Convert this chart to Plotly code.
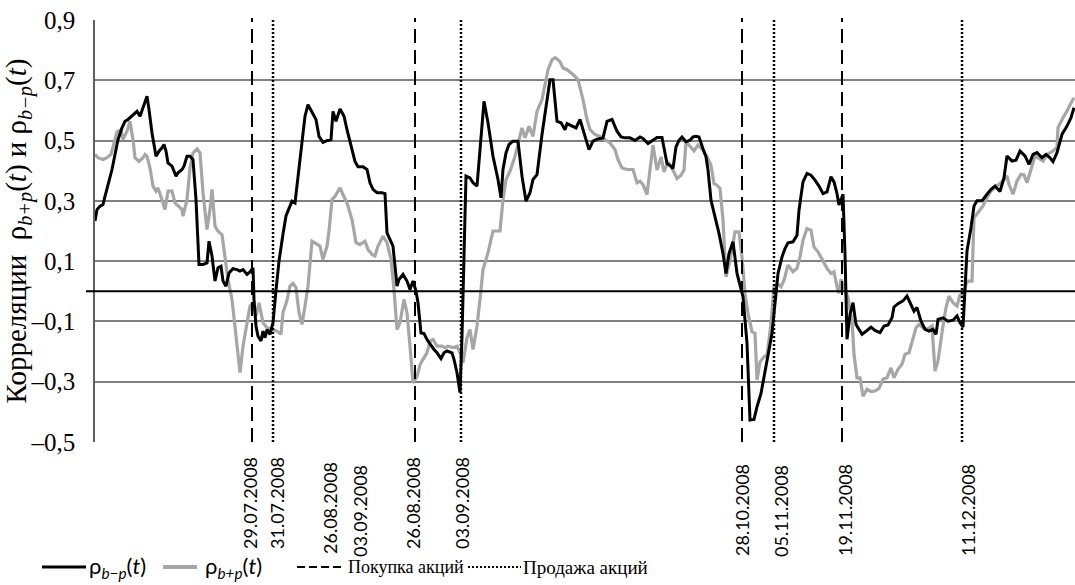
import plotly.graph_objects as go

# Observation index (trading-session steps along the horizontal axis)
x_bm = [0, 2, 5, 8, 10, 13, 17, 20, 23, 27,
        30, 33, 37, 40, 42, 45, 48, 52, 54, 57,
        61, 64, 67, 69, 71, 73, 77, 79, 81, 83,
        87, 89, 92, 95, 98, 101, 104, 108, 112, 114,
        117, 120, 123, 126, 128, 131, 134, 138, 142, 145,
        148, 152, 155, 158, 159, 161, 163, 166, 168, 170,
        172, 175, 178, 181, 184, 188, 191, 194, 197, 200,
        203, 207, 210, 213, 217, 221, 224, 228, 232, 236,
        238, 241, 245, 249, 252, 256, 260, 263, 268, 272,
        275, 278, 282, 287, 290, 292, 295, 298, 302, 304,
        308, 312, 315, 318, 321, 323, 326, 329, 332, 335,
        339, 342, 346, 349, 352, 357, 359, 362, 365, 367,
        371, 375, 378, 382, 385, 389, 393, 398, 403, 406,
        408, 411, 414, 418, 423, 427, 431, 435, 438, 442,
        447, 452, 455, 458, 462, 466, 470, 472, 477, 481,
        485, 489, 494, 498, 502, 508, 512, 517, 522, 526,
        530, 535, 540, 545, 548, 553, 558, 562, 567, 569,
        572, 576, 578, 581, 584, 587, 591, 595, 598, 601,
        604, 608, 611, 613, 616, 620, 624, 628, 631, 634,
        638, 642, 645, 648, 652, 655, 659, 662, 666, 669,
        672, 677, 680, 683, 687, 690, 693, 698, 702, 704,
        708, 712, 716, 720, 724, 728, 732, 736, 739, 742,
        744, 747, 748, 750, 752, 755, 758, 761, 767, 772,
        776, 780, 785, 789, 793, 797, 799, 803, 808, 812,
        815, 819, 822, 826, 830, 834, 838, 841, 843, 848,
        853, 858, 862, 865, 868, 870, 872, 876, 879, 882,
        887, 892, 896, 900, 905, 909, 912, 917, 921, 925,
        930, 934, 938, 942, 947, 951, 955, 958, 962, 967,
        972, 976, 979]
rho_bm = [0.233, 0.271, 0.282, 0.288, 0.315, 0.354, 0.404, 0.454, 0.503, 0.542,
          0.564, 0.570, 0.581, 0.592, 0.597, 0.581, 0.608, 0.647, 0.603, 0.525,
          0.448, 0.465, 0.476, 0.487, 0.465, 0.426, 0.415, 0.398, 0.382, 0.393,
          0.404, 0.415, 0.448, 0.448, 0.437, 0.304, 0.089, 0.089, 0.094, 0.166,
          0.117, 0.034, 0.078, 0.083, 0.034, 0.017, 0.061, 0.075, 0.072, 0.067,
          0.072, 0.056, 0.064, 0.078, -0.027, -0.115, -0.149, -0.165, -0.132, -0.154,
          -0.127, -0.143, -0.104, 0.003, 0.100, 0.190, 0.250, 0.275, 0.299, 0.293,
          0.382, 0.492, 0.581, 0.619, 0.592, 0.570, 0.514, 0.494, 0.500, 0.503,
          0.597, 0.564, 0.605, 0.581, 0.536, 0.481, 0.431, 0.413, 0.413, 0.404,
          0.360, 0.338, 0.327, 0.327, 0.324, 0.194, 0.172, 0.150, 0.017, 0.039,
          0.056, 0.034, 0.006, 0.034, 0.001, -0.038, -0.138, -0.140, -0.160, -0.176,
          -0.193, -0.204, -0.223, -0.204, -0.198, -0.204, -0.226, -0.270, -0.336, -0.150,
          0.382, 0.376, 0.360, 0.349, 0.459, 0.630, 0.559, 0.448, 0.371, 0.310,
          0.404, 0.459, 0.487, 0.498, 0.498, 0.382, 0.299, 0.327, 0.371, 0.387,
          0.520, 0.625, 0.702, 0.702, 0.564, 0.559, 0.536, 0.556, 0.547, 0.542,
          0.570, 0.525, 0.470, 0.498, 0.505, 0.509, 0.564, 0.570, 0.531, 0.512,
          0.509, 0.509, 0.500, 0.512, 0.507, 0.490, 0.501, 0.510, 0.510, 0.473,
          0.424, 0.415, 0.407, 0.479, 0.501, 0.512, 0.496, 0.501, 0.512, 0.514,
          0.512, 0.473, 0.446, 0.402, 0.302, 0.247, 0.192, 0.125, 0.059, 0.125,
          0.164, 0.059, 0.015, -0.018, -0.173, -0.427, -0.425, -0.383, -0.339, -0.283,
          -0.228, -0.140, -0.040, 0.059, 0.114, 0.142, 0.161, 0.164, 0.186, 0.269,
          0.363, 0.391, 0.385, 0.369, 0.349, 0.324, 0.330, 0.380, 0.363, 0.324,
          0.286, 0.311, 0.322, 0.123, -0.159, -0.077, -0.038, -0.110, -0.143, -0.130,
          -0.119, -0.130, -0.137, -0.115, -0.112, -0.088, -0.052, -0.041, -0.032, -0.016,
          -0.038, -0.066, -0.054, -0.099, -0.126, -0.132, -0.126, -0.143, -0.093, -0.088,
          -0.099, -0.096, -0.082, -0.104, -0.119, 0.012, 0.134, 0.211, 0.283, 0.300,
          0.300, 0.322, 0.338, 0.349, 0.331, 0.377, 0.449, 0.432, 0.435, 0.465,
          0.449, 0.421, 0.454, 0.460, 0.443, 0.454, 0.443, 0.430, 0.460, 0.521,
          0.548, 0.576, 0.609]

x_bp = [0, 3, 8, 12, 16, 19, 22, 26, 28, 32,
        35, 38, 40, 44, 48, 50, 52, 55, 58, 61,
        63, 67, 70, 73, 77, 80, 83, 87, 88, 92,
        95, 98, 102, 105, 108, 112, 115, 117, 120, 123,
        127, 130, 133, 137, 140, 143, 145, 148, 152, 155,
        158, 161, 164, 168, 172, 177, 182, 186, 188, 192,
        195, 198, 201, 204, 207, 210, 213, 217, 220, 225,
        228, 232, 234, 237, 240, 245, 248, 252, 257, 261,
        265, 270, 273, 277, 280, 283, 288, 292, 296, 299,
        302, 305, 309, 312, 315, 318, 322, 325, 328, 332,
        335, 338, 342, 347, 350, 353, 358, 362, 365, 368,
        372, 375, 378, 382, 385, 388, 393, 398, 405, 408,
        411, 415, 420, 423, 427, 430, 434, 438, 442, 447,
        450, 453, 457, 460, 463, 465, 468, 472, 478, 483,
        488, 492, 495, 500, 505, 510, 515, 520, 523, 527,
        532, 538, 542, 545, 548, 552, 555, 558, 562, 566,
        569, 573, 578, 582, 586, 589, 591, 595, 599, 603,
        608, 612, 616, 619, 622, 625, 628, 631, 635, 640,
        644, 647, 650, 653, 657, 660, 662, 665, 669, 672,
        676, 679, 682, 686, 689, 693, 698, 702, 705, 708,
        712, 716, 719, 723, 728, 732, 736, 739, 742, 744,
        746, 749, 753, 757, 759, 762, 765, 768, 772, 776,
        780, 784, 788, 792, 796, 799, 803, 807, 810, 814,
        818, 821, 824, 828, 832, 837, 840, 843, 847, 851,
        854, 858, 862, 865, 868, 871, 873, 877, 879, 883,
        888, 892, 896, 900, 904, 908, 912, 914, 918, 922,
        926, 929, 932, 937, 940, 943, 948, 952, 957, 962,
        963, 968, 972, 977, 979]
rho_bp = [0.454, 0.443, 0.437, 0.443, 0.454, 0.492, 0.528, 0.536, 0.503, 0.531,
          0.564, 0.503, 0.443, 0.431, 0.443, 0.454, 0.448, 0.409, 0.349, 0.332,
          0.343, 0.304, 0.271, 0.332, 0.332, 0.293, 0.282, 0.271, 0.249, 0.304,
          0.409, 0.459, 0.472, 0.459, 0.327, 0.205, 0.271, 0.338, 0.216, 0.199,
          0.188, 0.117, 0.039, -0.027, -0.115, -0.226, -0.270, -0.182, -0.104, -0.049,
          -0.038, -0.082, -0.038, -0.104, -0.121, -0.127, -0.132, -0.143, -0.071, -0.030,
          0.017, 0.026, 0.012, -0.071, -0.110, -0.049, 0.017, 0.166, 0.161, 0.150,
          0.106, 0.150, 0.199, 0.304, 0.315, 0.343, 0.321, 0.293, 0.238, 0.161,
          0.155, 0.166, 0.139, 0.122, 0.117, 0.150, 0.183, 0.161, 0.106, 0.006,
          -0.127, -0.104, -0.027, -0.071, -0.182, -0.304, -0.282, -0.243, -0.226, -0.204,
          -0.165, -0.160, -0.182, -0.182, -0.187, -0.182, -0.187, -0.182, -0.204, -0.237,
          -0.154, -0.127, -0.193, -0.115, -0.027, 0.072, 0.128, 0.200, 0.200, 0.304,
          0.371, 0.398, 0.448, 0.492, 0.542, 0.509, 0.547, 0.514, 0.597, 0.636,
          0.686, 0.735, 0.768, 0.775, 0.768, 0.762, 0.741, 0.735, 0.719, 0.702,
          0.636, 0.570, 0.536, 0.520, 0.514, 0.503, 0.492, 0.470, 0.437, 0.409,
          0.404, 0.404, 0.360, 0.365, 0.354, 0.321, 0.402, 0.485, 0.402, 0.446,
          0.396, 0.429, 0.402, 0.374, 0.385, 0.402, 0.496, 0.481, 0.466, 0.485,
          0.468, 0.446, 0.418, 0.357, 0.352, 0.341, 0.236, 0.048, 0.103, 0.197,
          0.197, 0.114, -0.007, -0.073, -0.134, -0.140, -0.294, -0.234, -0.217, -0.212,
          -0.107, 0.015, 0.026, 0.015, 0.037, 0.087, 0.065, 0.076, 0.114, 0.170,
          0.208, 0.203, 0.147, 0.131, 0.103, 0.076, 0.059, 0.065, 0.015, -0.007,
          0.040, 0.012, -0.021, -0.099, -0.209, -0.287, -0.287, -0.348, -0.325, -0.333,
          -0.331, -0.322, -0.292, -0.287, -0.254, -0.287, -0.259, -0.242, -0.209, -0.204,
          -0.160, -0.121, -0.110, -0.121, -0.126, -0.115, -0.265, -0.231, -0.137, -0.054,
          -0.016, -0.038, -0.049, -0.010, -0.021, 0.023, 0.034, 0.034, 0.244, 0.261,
          0.283, 0.311, 0.333, 0.344, 0.355, 0.366, 0.383, 0.355, 0.322, 0.366,
          0.388, 0.386, 0.360, 0.416, 0.449, 0.443, 0.432, 0.454, 0.463, 0.477,
          0.543, 0.576, 0.598, 0.631, 0.642]

# Trade events: buy (dashed) and sell (dotted)
buy_pos = [157, 320, 647, 747]
sell_pos = [178, 366, 679, 867]

# Date captions under the axis
date_labels = ["29.07.2008", "31.07.2008", "26.08.2008", "03.09.2008", "26.08.2008",
               "03.09.2008", "28.10.2008", "05.11.2008", "19.11.2008", "11.12.2008"]
date_pos = [155, 182, 235, 265, 318, 367, 647, 686, 750, 873]
date_top = [455, 455, 460, 463, 455, 455, 462, 463, 462, 462]

y_ticks = [-0.5, -0.3, -0.1, 0.1, 0.3, 0.5, 0.7, 0.9]
y_ticktext = ["–0,5", "–0,3", "–0,1", "0,1", "0,3", "0,5", "0,7", "0,9"]

X_MAX = 980
Y_MIN, Y_MAX = -0.5, 0.9
W, H = 1075, 585
M_L, M_T, M_B = 95, 20, 143
PLOT_W = W - M_L
PLOT_H = H - M_T - M_B

SERIF = "Liberation Serif"
SANS = "Lato"

def px_x(px):
    return (px - M_L) / PLOT_W

def px_y(py):
    return (H - M_B - py) / PLOT_H

fig = go.Figure()
fig.add_trace(go.Scatter(x=x_bp, y=rho_bp, mode="lines", name="ρb+p(t)",
                         line=dict(color="#a6a6a6", width=3.2), showlegend=False))
fig.add_trace(go.Scatter(x=x_bm, y=rho_bm, mode="lines", name="ρb−p(t)",
                         line=dict(color="#000000", width=3), showlegend=False))

shapes = []
# zero line reaching a little past the left axis
y0_paper = (0 - Y_MIN) / (Y_MAX - Y_MIN)
shapes.append(dict(type="line", xref="paper", yref="paper", x0=px_x(86), x1=1,
                   y0=y0_paper, y1=y0_paper, line=dict(color="#000000", width=2)))
for p in buy_pos:
    shapes.append(dict(type="line", xref="x", yref="paper", x0=p, x1=p, y0=0, y1=1.005,
                       line=dict(color="#000000", width=2, dash="14px,7px")))
for p in sell_pos:
    shapes.append(dict(type="line", xref="x", yref="paper", x0=p, x1=p, y0=0, y1=1.005,
                       line=dict(color="#000000", width=2.5, dash="2px,2px")))

# legend swatches
LEG_Y = px_y(567)
shapes.append(dict(type="line", xref="paper", yref="paper", x0=px_x(42), x1=px_x(86),
                   y0=LEG_Y, y1=LEG_Y, line=dict(color="#000000", width=3)))
shapes.append(dict(type="line", xref="paper", yref="paper", x0=px_x(163), x1=px_x(197),
                   y0=LEG_Y, y1=LEG_Y, line=dict(color="#a6a6a6", width=4)))
shapes.append(dict(type="line", xref="paper", yref="paper", x0=px_x(297), x1=px_x(345),
                   y0=LEG_Y, y1=LEG_Y, line=dict(color="#000000", width=2, dash="8px,4px")))
shapes.append(dict(type="line", xref="paper", yref="paper", x0=px_x(468), x1=px_x(521),
                   y0=LEG_Y, y1=LEG_Y, line=dict(color="#000000", width=2, dash="2px,2px")))

annotations = []
for lab, pos, top in zip(date_labels, date_pos, date_top):
    annotations.append(dict(x=pos, y=px_y(top), xref="x", yref="paper", text=lab,
                            textangle=-90, xanchor="center", yanchor="top",
                            showarrow=False, font=dict(family=SANS, size=18, color="#000000")))

legend_texts = [
    (87, "ρ<sub><i>b−p</i></sub>(<i>t</i>)", SANS, 22),
    (203, "ρ<sub><i>b+p</i></sub>(<i>t</i>)", SANS, 22),
    (346, "Покупка акций", SERIF, 18),
    (521, "Продажа акций", SERIF, 19),
]
for px, txt, fam, sz in legend_texts:
    annotations.append(dict(x=px_x(px), y=LEG_Y, xref="paper", yref="paper", text=txt,
                            xanchor="left", yanchor="middle", showarrow=False,
                            font=dict(family=fam, size=sz, color="#000000")))

fig.update_layout(
    width=W, height=H,
    margin=dict(l=M_L, r=0, t=M_T, b=M_B, pad=0),
    paper_bgcolor="white", plot_bgcolor="white",
    showlegend=False,
    shapes=shapes,
    annotations=annotations,
    xaxis=dict(range=[0, X_MAX], showgrid=False, zeroline=False, showticklabels=False,
               showline=False, ticks=""),
    yaxis=dict(range=[Y_MIN, Y_MAX], tickvals=y_ticks, ticktext=y_ticktext,
               showgrid=True, gridcolor="#808080", gridwidth=1.5, zeroline=False,
               showline=True, linecolor="#606060", linewidth=1.5, ticks="",
               ticklabelstandoff=13,
               tickfont=dict(family=SERIF, size=25, color="#000000"),
               title=dict(text="Корреляции  ρ<sub><i>b+p</i></sub>(<i>t</i>) и ρ<sub><i>b−p</i></sub>(<i>t</i>)",
                          font=dict(family=SERIF, size=29, color="#000000"), standoff=4)),
)

fig.write_html("out.html")
